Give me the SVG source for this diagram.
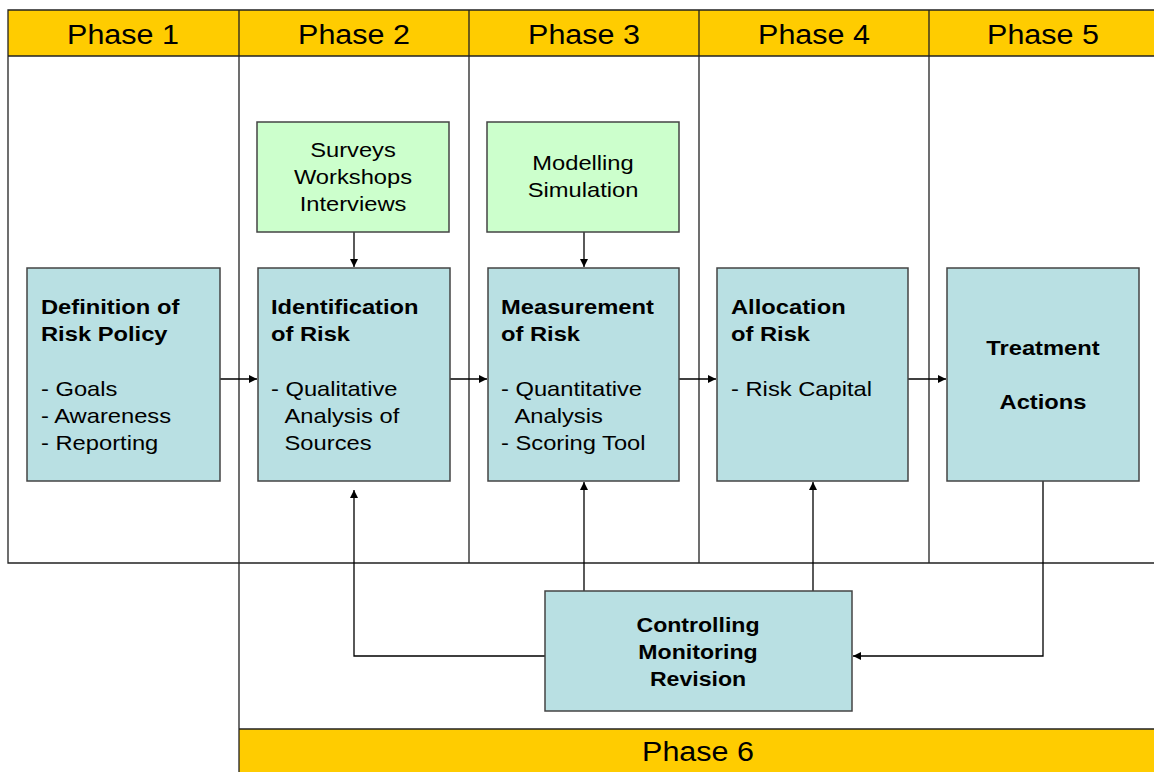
<svg xmlns="http://www.w3.org/2000/svg" width="1154" height="772" viewBox="0 0 1154 772">
  <style>
    .band { fill: #FFCC00; }
    .lane { fill: none; stroke: #222; stroke-width: 1.3; }
    .proc { fill: #B9E0E3; stroke: #444; stroke-width: 1.5; }
    .tool { fill: #CCFFCC; stroke: #444; stroke-width: 1.5; }
    .hdr { font-family: "Liberation Sans", Arial, sans-serif; font-size: 27px; fill: #000; text-anchor: middle; }
    .t { font-family: "Liberation Sans", Arial, sans-serif; font-size: 21px; fill: #000; }
    .b { font-weight: bold; }
    .c { text-anchor: middle; }
    .wire { fill: none; stroke: #000; stroke-width: 1.3; }
  </style>
  <defs>
    <marker id="arrow" viewBox="0 0 10 10" refX="10" refY="5" markerWidth="8" markerHeight="8" markerUnits="userSpaceOnUse" orient="auto">
      <path d="M0,0 L10,5 L0,10 z" fill="#000"/>
    </marker>
  </defs>

  <rect width="1154" height="772" fill="#fff"/>

  <!-- phase bands and swimlanes -->
  <g id="lanes">
    <rect class="band" x="8" y="10" width="1150" height="46"/>
    <rect class="band" x="239" y="729" width="920" height="45"/>
    <path class="lane" d="M1160,10 H8 V563 H1160 M8,56 H1160 M239,10 V772 M469,10 V563 M699,10 V563 M929,10 V563 M239,729 H1160"/>
    <g transform="translate(123,44) scale(1.13,1)"><text class="hdr" x="0" y="0">Phase 1</text></g>
    <g transform="translate(354,44) scale(1.13,1)"><text class="hdr" x="0" y="0">Phase 2</text></g>
    <g transform="translate(584,44) scale(1.13,1)"><text class="hdr" x="0" y="0">Phase 3</text></g>
    <g transform="translate(814,44) scale(1.13,1)"><text class="hdr" x="0" y="0">Phase 4</text></g>
    <g transform="translate(1043,44) scale(1.13,1)"><text class="hdr" x="0" y="0">Phase 5</text></g>
    <g transform="translate(698,761) scale(1.13,1)"><text class="hdr" x="0" y="0">Phase 6</text></g>
  </g>

  <!-- connectors -->
  <g id="connectors">
    <path class="wire" d="M220,379 H257" marker-end="url(#arrow)"/>
    <path class="wire" d="M450,379 H487" marker-end="url(#arrow)"/>
    <path class="wire" d="M679,379 H716" marker-end="url(#arrow)"/>
    <path class="wire" d="M908,379 H946" marker-end="url(#arrow)"/>
    <path class="wire" d="M354,232 V267" marker-end="url(#arrow)"/>
    <path class="wire" d="M584,232 V267" marker-end="url(#arrow)"/>
    <path class="wire" d="M545,656 H354 V490" marker-end="url(#arrow)"/>
    <path class="wire" d="M584,591 V482" marker-end="url(#arrow)"/>
    <path class="wire" d="M813,591 V482" marker-end="url(#arrow)"/>
    <path class="wire" d="M1043,481 V656 H853" marker-end="url(#arrow)"/>
  </g>

  <g id="definition">
    <rect class="proc" x="27" y="268" width="193" height="213"/>
    <g transform="translate(41,0) scale(1.13,1)">
      <text class="t b" x="0" y="314">Definition of</text>
      <text class="t b" x="0" y="341">Risk Policy</text>
      <text class="t" x="0" y="396">- Goals</text>
      <text class="t" x="0" y="423">- Awareness</text>
      <text class="t" x="0" y="450">- Reporting</text>
    </g>
  </g>

  <g id="identification">
    <rect class="proc" x="258" y="268" width="192" height="213"/>
    <g transform="translate(271,0) scale(1.13,1)">
      <text class="t b" x="0" y="314">Identification</text>
      <text class="t b" x="0" y="341">of Risk</text>
      <text class="t" x="0" y="396">- Qualitative</text>
      <text class="t" x="12" y="423">Analysis of</text>
      <text class="t" x="12" y="450">Sources</text>
    </g>
  </g>

  <g id="measurement">
    <rect class="proc" x="488" y="268" width="191" height="213"/>
    <g transform="translate(501,0) scale(1.13,1)">
      <text class="t b" x="0" y="314">Measurement</text>
      <text class="t b" x="0" y="341">of Risk</text>
      <text class="t" x="0" y="396">- Quantitative</text>
      <text class="t" x="12" y="423">Analysis</text>
      <text class="t" x="0" y="450">- Scoring Tool</text>
    </g>
  </g>

  <g id="allocation">
    <rect class="proc" x="717" y="268" width="191" height="213"/>
    <g transform="translate(731,0) scale(1.13,1)">
      <text class="t b" x="0" y="314">Allocation</text>
      <text class="t b" x="0" y="341">of Risk</text>
      <text class="t" x="0" y="396">- Risk Capital</text>
    </g>
  </g>

  <g id="treatment">
    <rect class="proc" x="947" y="268" width="192" height="213"/>
    <g transform="translate(1043,0) scale(1.13,1)">
      <text class="t b c" x="0" y="355">Treatment</text>
      <text class="t b c" x="0" y="409">Actions</text>
    </g>
  </g>

  <g id="surveys">
    <rect class="tool" x="257" y="122" width="192" height="110"/>
    <g transform="translate(353,0) scale(1.13,1)">
      <text class="t c" x="0" y="157">Surveys</text>
      <text class="t c" x="0" y="184">Workshops</text>
      <text class="t c" x="0" y="211">Interviews</text>
    </g>
  </g>

  <g id="modelling">
    <rect class="tool" x="487" y="122" width="192" height="110"/>
    <g transform="translate(583,0) scale(1.13,1)">
      <text class="t c" x="0" y="170">Modelling</text>
      <text class="t c" x="0" y="197">Simulation</text>
    </g>
  </g>

  <g id="controlling">
    <rect class="proc" x="545" y="591" width="307" height="120"/>
    <g transform="translate(698,0) scale(1.1,1)">
      <text class="t b c" x="0" y="632">Controlling</text>
      <text class="t b c" x="0" y="659">Monitoring</text>
      <text class="t b c" x="0" y="686">Revision</text>
    </g>
  </g>
</svg>
